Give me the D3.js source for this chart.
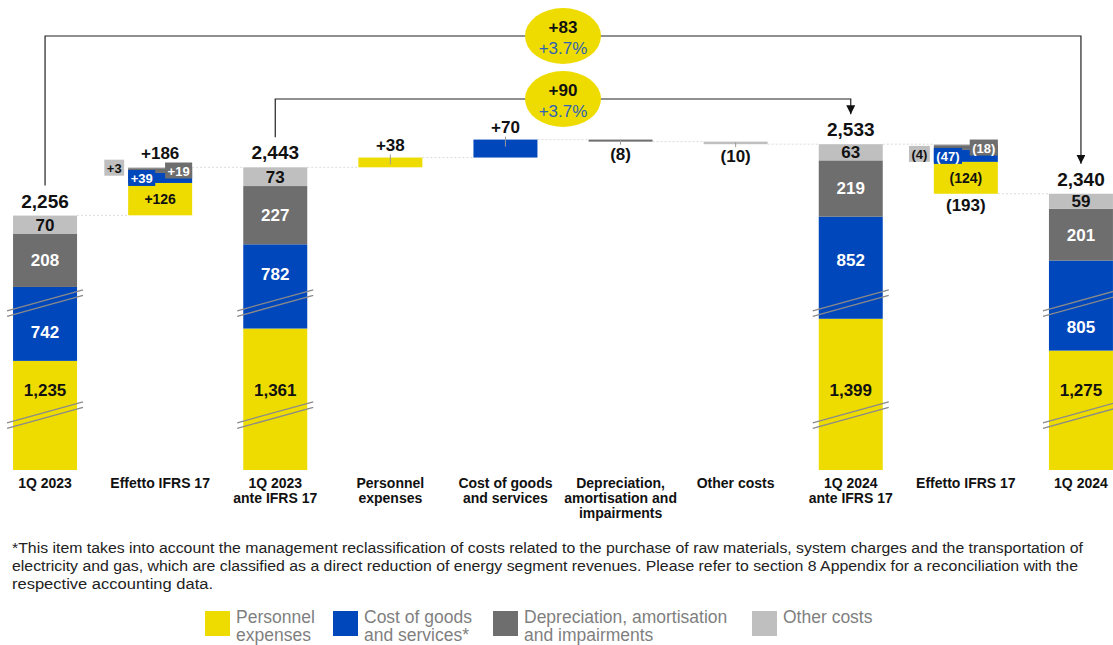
<!DOCTYPE html>
<html>
<head>
<meta charset="utf-8">
<style>
  body { margin: 0; background: #fff; }
  svg { font-family: "Liberation Sans", Arial, sans-serif; }
  .cat { font-size: 14px; font-weight: bold; fill: #111; text-anchor: middle; }
  .total-label { font-size: 19px; font-weight: bold; fill: #111; text-anchor: middle; }
  .delta-label { font-size: 17px; font-weight: bold; fill: #111; text-anchor: middle; }
  .seg-label { font-size: 17px; font-weight: bold; text-anchor: middle; }
  .small-label { font-size: 13px; font-weight: bold; text-anchor: middle; }
  .note { font-family: "Liberation Sans Narrow", "Liberation Sans", Arial, sans-serif; font-size: 14px; fill: #222; }
  .legend { font-size: 17.5px; fill: #7f7f7f; }
</style>
<script src="https://cdn.jsdelivr.net/npm/d3@7"></script>
</head>
<body>
<script>
// categories and values (EUR m)
var categories = ["1Q 2023", "Effetto IFRS 17", "1Q 2023|ante IFRS 17", "Personnel|expenses",
  "Cost of goods|and services", "Depreciation,|amortisation and|impairments", "Other costs",
  "1Q 2024|ante IFRS 17", "Effetto IFRS 17", "1Q 2024"];
var barType     = ["total", "delta", "total", "delta", "delta", "delta", "delta", "total", "delta", "total"];
var personnel   = [1235, 126, 1361, 38, 0, 0, 0, 1399, -124, 1275];
var goods       = [742, 39, 782, 0, 70, 0, 0, 852, -47, 805];
var depreciation= [208, 19, 227, 0, 0, -8, 0, 219, -18, 201];
var other       = [70, 3, 73, 0, 0, 0, -10, 63, -4, 59];
var totals      = [2256, 186, 2443, 38, 70, -8, -10, 2533, -193, 2340];
var brackets = [
  {from: 0, to: 9, delta: "+83", pct: "+3.7%"},
  {from: 2, to: 7, delta: "+90", pct: "+3.7%"}
];
// amount hidden by the axis breaks in the two big segments
var cutPersonnel = 810, cutGoods = 454;
var breakLevels = [1478, 1914];
var footnote = [
  "*This item takes into account the management reclassification of costs related to the purchase of raw materials, system charges and the transportation of",
  "electricity and gas, which are classified as a direct reduction of energy segment revenues. Please refer to section 8 Appendix for a reconciliation with the",
  "respective accounting data."
];

var series = [
  {label: ["Personnel", "expenses"], values: personnel, cut: cutPersonnel, color: "#EEDC00", ink: "#111"},
  {label: ["Cost of goods", "and services*"], values: goods, cut: cutGoods, color: "#0047BB", ink: "#fff"},
  {label: ["Depreciation, amortisation", "and impairments"], values: depreciation, cut: 0, color: "#6E6E6E", ink: "#fff"},
  {label: ["Other costs"], values: other, cut: 0, color: "#BFBFBF", ink: "#111"}
];

var width = 1113, height = 645, baseline = 470;
var cutBottom = cutPersonnel + cutGoods;
var fmt = d3.format(",");
function deltaText(v) { return v >= 0 ? "+" + fmt(v) : "(" + fmt(-v) + ")"; }

var svg = d3.select("body").append("svg")
  .attr("width", width).attr("height", height);

var defs = svg.append("defs");
defs.append("marker").attr("id", "arrow")
  .attr("markerUnits", "userSpaceOnUse")
  .attr("markerWidth", 9).attr("markerHeight", 9)
  .attr("refX", 9).attr("refY", 4.5).attr("orient", "auto")
  .append("path").attr("d", "M0,0L9,4.5L0,9Z").attr("fill", "#111");

var x = d3.scaleBand().domain(d3.range(categories.length))
  .range([-12.5, 1138.5]).paddingInner(0.444).paddingOuter(0.222);
var bw = x.bandwidth();
var y = d3.scaleLinear().domain([cutBottom, 2600]).range([baseline, 127]);

// build bars
var bars = [];
var level = 0;
categories.forEach(function(c, i) {
  var bar = {i: i, type: barType[i], segs: []};
  var cur;
  if (barType[i] === "total") {
    cur = cutBottom;
    series.forEach(function(s) {
      var h = s.values[i] - s.cut;
      bar.segs.push({s: s, v: s.values[i], lo: cur, hi: cur + h});
      cur += h;
    });
    bar.lo = cutBottom; bar.hi = cur; bar.end = totals[i];
    level = totals[i];
  } else {
    var up = totals[i] >= 0;
    cur = level;
    (up ? series : series.slice().reverse()).forEach(function(s) {
      var v = s.values[i];
      if (!v) return;
      var next = cur + v;
      bar.segs.push({s: s, v: v, lo: Math.min(cur, next), hi: Math.max(cur, next)});
      cur = next;
    });
    bar.lo = Math.min(level, cur); bar.hi = Math.max(level, cur);
    bar.end = cur; bar.up = up;
    level = cur;
  }
  bars.push(bar);
});

// dotted connectors
var conn = svg.append("g");
bars.forEach(function(b, i) {
  if (i === bars.length - 1) return;
  conn.append("line")
    .attr("x1", x(i) + bw).attr("x2", x(i + 1))
    .attr("y1", y(b.end)).attr("y2", y(b.end))
    .attr("stroke", "#dadada").attr("stroke-width", 1)
    .attr("stroke-dasharray", "2,2");
});

// bars
var gBars = svg.append("g");
bars.forEach(function(b) {
  b.segs.forEach(function(sg) {
    gBars.append("rect")
      .attr("x", x(b.i)).attr("width", bw)
      .attr("y", y(sg.hi)).attr("height", Math.max(1, y(sg.lo) - y(sg.hi)))
      .attr("fill", sg.s.color);
  });
});

// axis breaks on the total bars
var gBreak = svg.append("g");
bars.filter(function(b) { return b.type === "total"; }).forEach(function(b) {
  breakLevels.forEach(function(lv) {
    [-2.8, 2.8].forEach(function(off) {
      var yc = y(lv) + off;
      gBreak.append("line")
        .attr("x1", x(b.i) - 6).attr("y1", yc + 10.5)
        .attr("x2", x(b.i) + bw + 6).attr("y2", yc - 10.5)
        .attr("stroke", "#8a8a8a").attr("stroke-width", 1.3);
    });
  });
});

// labels
var gLab = svg.append("g");
bars.forEach(function(b) {
  var cx = x(b.i) + bw / 2;
  if (b.type === "total") {
    gLab.append("text").attr("class", "total-label")
      .attr("x", cx).attr("y", y(b.hi) - 8).text(fmt(totals[b.i]));
    b.segs.forEach(function(sg) {
      var top = y(sg.hi), bot = y(sg.lo), mid = (top + bot) / 2;
      if (sg.s === series[0]) {
        // personnel label sits just above its lower break
        mid = y(breakLevels[0]) - 25;
      } else {
        breakLevels.forEach(function(lv) {
          if (lv > sg.lo && lv < sg.hi) {
            var yb = y(lv);
            mid = (yb - top) >= (bot - yb) ? (top + yb) / 2 : (yb + bot) / 2;
          }
        });
      }
      gLab.append("text").attr("class", "seg-label")
        .attr("x", cx).attr("y", mid + 6)
        .attr("fill", sg.s.ink).text(fmt(sg.v));
    });
  } else if (b.segs.length === 1) {
    var txt = deltaText(totals[b.i]);
    gLab.append("line")
      .attr("x1", cx).attr("x2", cx)
      .attr("y1", b.up ? y(b.hi) - 3 : y(b.lo) - 2)
      .attr("y2", b.up ? y(b.hi) + 7 : y(b.lo) + 3)
      .attr("stroke", "#9a9a9a");
    gLab.append("text").attr("class", "delta-label")
      .attr("x", cx).attr("y", b.up ? y(b.hi) - 7 : y(b.lo) + 18)
      .text(txt);
  } else {
    gLab.append("text").attr("class", "delta-label")
      .attr("x", cx).attr("y", b.up ? y(b.hi) - 8 : y(b.lo) + 17)
      .text(deltaText(totals[b.i]));
    var segOf = function(s) { return b.segs.filter(function(sg) { return sg.s === s; })[0]; };
    var midOf = function(sg) { return (y(sg.hi) + y(sg.lo)) / 2; };
    var x0 = x(b.i), x1 = x(b.i) + bw;
    var yel = segOf(series[0]), blu = segOf(series[1]), dk = segOf(series[2]), lt = segOf(series[3]);
    gLab.append("text").attr("class", "small-label").style("font-size", "14px")
      .attr("x", cx).attr("y", midOf(yel) + 5).attr("fill", "#111").text(deltaText(yel.v));
    var boxed = function(sg, anchor, xa, yc) {
      var t = gLab.append("text").attr("class", "small-label")
        .attr("fill", sg.s.ink).text(deltaText(sg.v));
      var w = t.node().getComputedTextLength() + 5;
      var bx = anchor === "left" ? xa : xa - w;
      gLab.insert("rect", function() { return t.node(); })
        .attr("x", bx).attr("y", yc - 8).attr("width", w).attr("height", 16)
        .attr("fill", sg.s.color);
      t.attr("x", bx + w / 2).attr("y", yc + 5);
    };
    boxed(blu, "left", x0, midOf(blu));
    boxed(dk, "right", x1, midOf(dk));
    boxed(lt, "right", x0 - 4, b.up ? midOf(lt) : midOf(blu) - 2);
  }
});

// category labels
var gCat = svg.append("g");
categories.forEach(function(c, i) {
  var t = gCat.append("text").attr("class", "cat")
    .attr("x", x(i) + bw / 2).attr("y", 488);
  c.split("|").forEach(function(line, k) {
    t.append("tspan").attr("x", x(i) + bw / 2).attr("dy", k ? 15 : 0).text(line);
  });
});

// comparison brackets
var bracketY = [36, 99];
brackets.forEach(function(br, k) {
  var xa = x(br.from) + bw / 2, xb = x(br.to) + bw / 2;
  var ya = y(bars[br.from].hi) - 30, yb = y(bars[br.to].hi) - 30;
  var yl = bracketY[k];
  svg.append("path")
    .attr("d", "M" + xa + "," + ya + "V" + yl + "H" + xb + "V" + yb)
    .attr("fill", "none").attr("stroke", "#222").attr("stroke-width", 1.2)
    .attr("marker-end", "url(#arrow)");
  var ex = (xa + xb) / 2;
  svg.append("ellipse").attr("cx", ex).attr("cy", yl)
    .attr("rx", 38).attr("ry", 28).attr("fill", "#EEDC00");
  svg.append("text").attr("x", ex).attr("y", yl - 3)
    .attr("text-anchor", "middle").attr("font-size", 17).attr("font-weight", "bold")
    .attr("fill", "#111").text(br.delta);
  svg.append("text").attr("x", ex).attr("y", yl + 18)
    .attr("text-anchor", "middle").attr("font-size", 17)
    .attr("fill", "#2F63B5").text(br.pct);
});

// footnote
var noteWidths = [1071, 1066, 201];
footnote.forEach(function(line, k) {
  svg.append("text").attr("class", "note")
    .attr("x", 12).attr("y", 553 + k * 18)
    .attr("textLength", noteWidths[k]).attr("lengthAdjust", "spacingAndGlyphs")
    .text(line);
});

// legend
var legendX = [205, 333, 493, 752];
series.forEach(function(s, k) {
  var g = svg.append("g").attr("transform", "translate(" + legendX[k] + ",611)");
  g.append("rect").attr("width", 25).attr("height", 25).attr("fill", s.color);
  s.label.forEach(function(line, j) {
    g.append("text").attr("class", "legend")
      .attr("x", 31).attr("y", 12 + j * 18).text(line);
  });
});
</script>
</body>
</html>
